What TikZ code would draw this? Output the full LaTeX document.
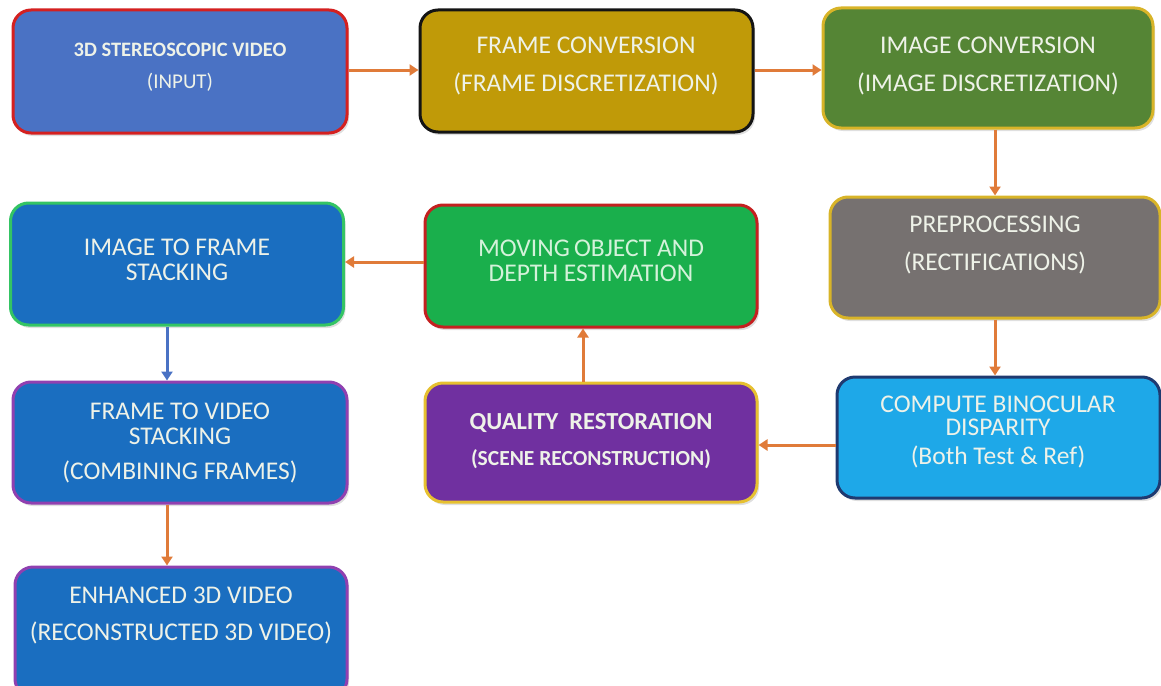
\documentclass[tikz,border=0pt]{standalone}
\usepackage{fontspec}
\setmainfont{Carlito}
\usetikzlibrary{shadows,arrows.meta}
\definecolor{cOr}{HTML}{E07B39}
\definecolor{cArrBlue}{HTML}{4A72C4}
\definecolor{cTxt}{HTML}{EEF2E8}
\definecolor{cTxtG}{HTML}{D4F2DA}
\definecolor{f1}{HTML}{4A72C4}\definecolor{d1}{HTML}{D42020}
\definecolor{f2}{HTML}{C09A08}\definecolor{d2}{HTML}{141414}
\definecolor{f3}{HTML}{558535}\definecolor{d3}{HTML}{D8B428}
\definecolor{f4}{HTML}{767170}\definecolor{d4}{HTML}{D8B428}
\definecolor{f5}{HTML}{1EA8E8}\definecolor{d5}{HTML}{1F3A70}
\definecolor{f6}{HTML}{7030A0}\definecolor{d6}{HTML}{E6C030}
\definecolor{f7}{HTML}{1AAF4C}\definecolor{d7}{HTML}{C42020}
\definecolor{f8}{HTML}{1A6EC0}\definecolor{d8}{HTML}{34C464}
\definecolor{d9}{HTML}{9040B0}
\tikzset{
  x=1pt,y=-1pt,
  stagebox/.style n args={2}{draw=#2, fill=#1, line width=3pt, rounded corners=18pt, inner sep=0pt,
     drop shadow={shadow xshift=2pt,shadow yshift=-3pt,opacity=0.25}},
  lbl/.style={text=cTxt, align=center, font=\fontsize{25.5}{24}\selectfont, inner sep=0pt},
  flow/.style={draw=cOr, line width=3pt, -{Triangle[length=9pt,width=11pt]}},
  flowblue/.style={draw=cArrBlue, line width=3pt, -{Triangle[length=9pt,width=11pt]}}
}
\begin{document}
\begin{tikzpicture}
\useasboundingbox (0,0) rectangle (1161,685);
% boxes
\node[stagebox={f1}{d1}, minimum width=334pt, minimum height=123pt] (b1) at (180,71.5) {};
\node[stagebox={f2}{d2}, minimum width=333pt, minimum height=122pt] (b2) at (586.5,71) {};
\node[stagebox={f3}{d3}, minimum width=330pt, minimum height=120pt] (b3) at (988,68) {};
\node[stagebox={f4}{d4}, minimum width=330pt, minimum height=121pt] (b4) at (995,257.5) {};
\node[stagebox={f5}{d5}, minimum width=323pt, minimum height=121pt] (b5) at (998.5,437.5) {};
\node[stagebox={f6}{d6}, minimum width=332pt, minimum height=119pt] (b6) at (591,442.5) {};
\node[stagebox={f7}{d7}, minimum width=332pt, minimum height=122pt] (b7) at (591,266) {};
\node[stagebox={f8}{d8}, minimum width=333pt, minimum height=122pt] (b8) at (177,264) {};
\node[stagebox={f8}{d9}, minimum width=334pt, minimum height=121pt] (b9) at (180,442.5) {};
\node[stagebox={f8}{d9}, minimum width=332pt, minimum height=130pt] (b10) at (181,632) {};
% texts
\node[lbl, font=\bfseries\fontsize{20.5}{24}\selectfont] (t1) at (180,67) {3D STEREOSCOPIC VIDEO\\[8pt]{\mdseries\fontsize{21}{24}\selectfont (INPUT)}};
\node[lbl] (t2) at (586,66) {FRAME CONVERSION\\[14pt](FRAME DISCRETIZATION)};
\node[lbl] (t3) at (988,66) {IMAGE CONVERSION\\[14pt](IMAGE DISCRETIZATION)};
\node[lbl] (t4) at (995,245) {PREPROCESSING\\[14pt](RECTIFICATIONS)};
\node[lbl] (t5) at (998,432) {COMPUTE BINOCULAR\\[-1pt]DISPARITY\\[5pt](Both Test \& Ref)};
\node[lbl, font=\bfseries\fontsize{24.5}{24}\selectfont] (t6) at (591,441) {QUALITY\ \ RESTORATION\\[12pt]{\fontsize{21.5}{24}\selectfont (SCENE RECONSTRUCTION)}};
\node[lbl, text=cTxtG] (t7) at (591,261) {MOVING\,OBJECT AND\\[1pt]DEPTH ESTIMATION};
\node[lbl] (t8) at (177,260) {IMAGE TO FRAME\\[1pt]STACKING};
\node[lbl] (t9) at (180,443) {FRAME TO VIDEO\\[1pt]STACKING\\[11pt](COMBINING FRAMES)};
\node[lbl] (t10) at (181,615) {ENHANCED 3D VIDEO\\[13pt](RECONSTRUCTED 3D VIDEO)};
% connectors
\draw[flow] (b1.east |- 0,70) -- (b2.west |- 0,70);
\draw[flow] (b2.east |- 0,70) -- (b3.west |- 0,70);
\draw[flow] (b3.south -| 995,0) -- (b4.north -| 995,0);
\draw[flow] (b4.south -| 995,0) -- (b5.north -| 995,0);
\draw[flow] (b5.west |- 0,445) -- (b6.east |- 0,445);
\draw[flow] (b6.north -| 583,0) -- (b7.south -| 583,0);
\draw[flow] (b7.west |- 0,262) -- (b8.east |- 0,262);
\draw[flowblue] (b8.south -| 167,0) -- (b9.north -| 167,0);
\draw[flow] (b9.south -| 167,0) -- (b10.north -| 167,0);
\end{tikzpicture}
\end{document}
